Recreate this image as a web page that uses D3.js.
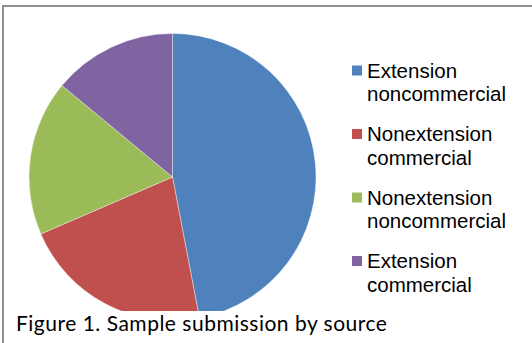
<!DOCTYPE html>
<html>
<head>
<meta charset="utf-8">
<script src="https://cdn.jsdelivr.net/npm/d3@7"></script>
<style>
  html, body { margin: 0; padding: 0; background: #fff; }
  svg { display: block; }
</style>
</head>
<body>
<div id="chart"></div>
<script>
const categories = [
    ["Extension", "noncommercial"],
    ["Nonextension", "commercial"],
    ["Nonextension", "noncommercial"],
    ["Extension", "commercial"]
];
const shares = [47, 21.5, 17.5, 14];
const colors = ["#4F81BD", "#C0504D", "#9BBB59", "#8064A2"];
const caption = "Figure 1. Sample submission by source";

const width = 532;
const height = 343;
const cx = 172.5, cy = 177, radius = 143.5;

const svg = d3.select("#chart")
    .append("svg")
    .attr("width", width)
    .attr("height", height)
    .attr("viewBox", [0, 0, width, height]);

// frame (right and bottom edges run off the picture)
svg.append("rect")
    .attr("x", 3)
    .attr("y", 6)
    .attr("width", 700)
    .attr("height", 500)
    .attr("fill", "#fff")
    .attr("stroke", "#8f8f8f")
    .attr("stroke-width", 2);

// pie is cut off by the caption box
svg.append("clipPath")
    .attr("id", "pie-clip")
  .append("rect")
    .attr("x", 0)
    .attr("y", 0)
    .attr("width", width)
    .attr("height", 311);

const data = shares.map((v, i) => ({ name: categories[i].join(" "), value: v, color: colors[i] }));

const pie = d3.pie()
    .sort(null)
    .value(d => d.value);

const arc = d3.arc()
    .innerRadius(0)
    .outerRadius(radius);

svg.append("g")
    .attr("clip-path", "url(#pie-clip)")
  .append("g")
    .attr("transform", `translate(${cx},${cy})`)
  .selectAll("path")
  .data(pie(data))
  .join("path")
    .attr("d", arc)
    .attr("fill", d => d.data.color)
    .attr("stroke", "#fff")
    .attr("stroke-opacity", 0.5)
    .attr("stroke-width", 0.75);

// legend
const legendY = d3.scalePoint()
    .domain(d3.range(categories.length))
    .range([77.5, 268]);

const legend = svg.append("g")
    .attr("font-family", "'Liberation Sans', Arial, sans-serif")
    .attr("font-size", 20.5)
    .attr("fill", "#000");

const item = legend.selectAll("g")
    .data(categories)
    .join("g")
    .attr("transform", (d, i) => `translate(0,${legendY(i)})`);

item.append("rect")
    .attr("x", 352)
    .attr("y", -12)
    .attr("width", 10)
    .attr("height", 10)
    .attr("fill", (d, i) => colors[i]);

item.append("text")
    .attr("x", 367)
    .selectAll("tspan")
    .data(d => d)
    .join("tspan")
    .attr("x", 367)
    .attr("y", (d, i) => i * 23.5)
    .text(d => d);

// caption
svg.append("text")
    .attr("x", 16)
    .attr("y", 331)
    .attr("font-family", "Lato, 'Open Sans', sans-serif")
    .attr("font-size", 21)
    .attr("letter-spacing", 0.5)
    .attr("fill", "#000")
    .text(caption);
</script>
</body>
</html>
